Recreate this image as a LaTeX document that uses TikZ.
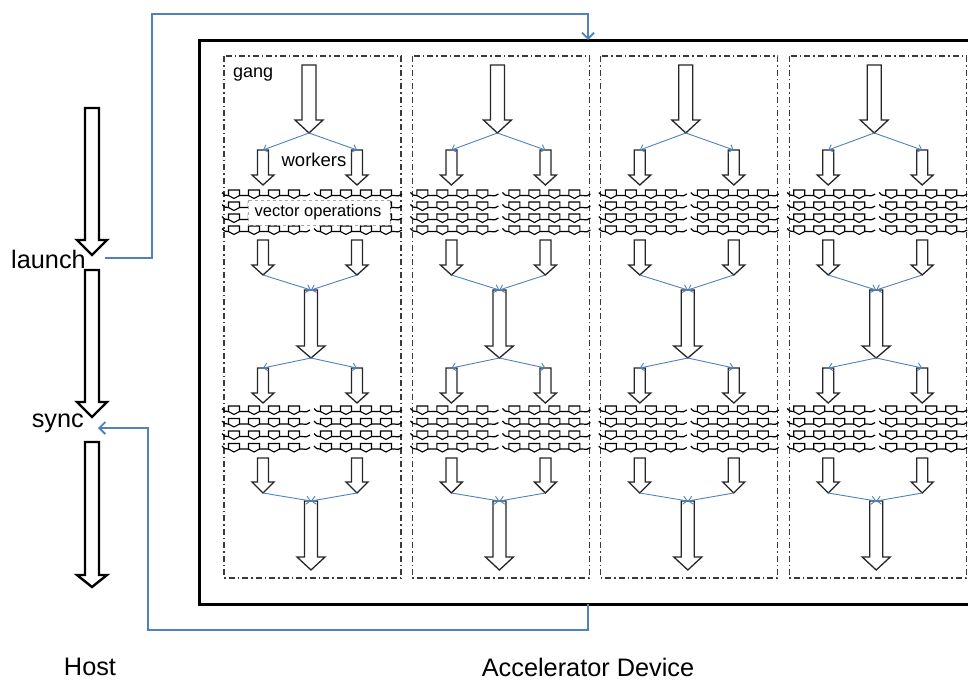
\documentclass[tikz,border=0pt]{standalone}
\usepackage{fontspec}
\setmainfont{Liberation Sans}
\usetikzlibrary{arrows.meta}
\definecolor{linkblue}{HTML}{4F81BD}
\definecolor{gangline}{HTML}{3A3A3A}
\tikzset{
  hostarrow/.style={draw=black, fill=white, line width=2.4pt, line join=miter},
  workarrow/.style={draw=black!85, fill=white, line width=1.3pt, line join=miter},
  link/.style={draw=linkblue, line width=0.9pt, -{Straight Barb[length=4pt,width=8pt]}},
  ctrl/.style={draw=linkblue, line width=1.8pt, -{Straight Barb[length=6pt,width=12pt]}},
  gangbox/.style={draw=gangline, line width=1.3pt, dash pattern=on 6pt off 3pt on 1.5pt off 3pt},
  devicebox/.style={draw=black, line width=3pt},
  vline/.style={draw=black, line width=1.2pt},
  vpent/.style={draw=black, fill=white, line width=1.1pt, line join=miter},
  labelbox/.style={draw=black!35, dashed, line width=0.5pt, fill=white},
  biglabel/.style={font=\fontsize{25.3}{28}\selectfont, inner sep=0pt},
  ganglabel/.style={font=\fontsize{18}{21}\selectfont, inner sep=0pt},
  worklabel/.style={font=\fontsize{18.5}{21}\selectfont, inner sep=0pt},
  veclabel/.style={font=\fontsize{16.5}{19}\selectfont, inner sep=0pt},
}

% hollow block arrow: name, centre x, top y, head base y, tip y, half shaft, half head, style
\newcommand\blockarr[8]{%
  \draw[#8] (#2-#6,#3) -- (#2+#6,#3) -- (#2+#6,#4) -- (#2+#7,#4) -- (#2,#5)
    -- (#2-#7,#4) -- (#2-#6,#4) -- cycle;
  \coordinate (#1-top) at (#2,#3);
  \coordinate (#1-tip) at (#2,#5);
}

% one chain of four vector lanes starting at x = #1 on row y = #2
\newcommand\vrow[2]{%
  \draw[vline] (#1-2,#2-1.5) .. controls (#1+1,#2+1.5) .. (#1+4,#2+1.5)
    -- (#1+78,#2+1.5) .. controls (#1+83,#2+2) .. (#1+86,#2+0);
  \foreach \p in {10,30,50,70}{%
    \draw[vpent] (#1+\p-5.5,#2-4) -- (#1+\p+5.5,#2-4) -- (#1+\p+5.5,#2+1.5)
      -- (#1+\p,#2+4.5) -- (#1+\p-5.5,#2+1.5) -- cycle;
  }%
}

\begin{document}
\begin{tikzpicture}[x=1pt,y=-1pt]
\useasboundingbox (0,0) rectangle (968,680);

% device frame
\draw[devicebox] (968,40) -- (199,40) -- (199,604) -- (968,604);
\coordinate (devtop) at (588,40);
\coordinate (devbot) at (588,604);

% host timeline
\blockarr{h1}{92}{108}{240}{255}{7}{15}{hostarrow}
\blockarr{h2}{92}{270}{402}{417}{7}{15}{hostarrow}
\blockarr{h3}{92}{442}{575}{587}{7}{15}{hostarrow}
\node[biglabel, anchor=east] (launch) at (86,259) {launch};
\node[biglabel, anchor=east] (sync) at (84,423) {sync};
\node[biglabel] (host) at (90,667) {Host};
\node[biglabel] (accel) at (588,667) {Accelerator Device};
\coordinate (launchpt) at (105,258);
\coordinate (syncpt) at (98,428);

% kernel launch and synchronisation
\draw[ctrl] (launchpt) -| (152,14) -| (devtop);
\draw[ctrl] (devbot) |- (148,630) |- (syncpt);

% gangs
\foreach \i in {0,1,2,3}{
  \pgfmathsetmacro\gx{224+188.4*\i}
  \draw[gangbox] (\gx,56) rectangle (\gx+177,578);
  \blockarr{g\i-a}{\gx+85}{65}{120}{133}{7}{14}{workarrow}
  \blockarr{g\i-wl1}{\gx+39}{150}{175}{185}{5.5}{11}{workarrow}
  \blockarr{g\i-wr1}{\gx+133}{150}{175}{185}{5.5}{11}{workarrow}
  \foreach \r in {194,206,218,230}{\vrow{\gx}{\r}\vrow{\gx+92}{\r}}
  \blockarr{g\i-wl2}{\gx+39}{240}{265}{275}{5.5}{11}{workarrow}
  \blockarr{g\i-wr2}{\gx+133}{240}{265}{275}{5.5}{11}{workarrow}
  \blockarr{g\i-b}{\gx+87}{290}{346}{358}{6.5}{14}{workarrow}
  \blockarr{g\i-wl3}{\gx+39}{368}{393}{403}{5.5}{11}{workarrow}
  \blockarr{g\i-wr3}{\gx+133}{368}{393}{403}{5.5}{11}{workarrow}
  \foreach \r in {410,422.5,435,447.5}{\vrow{\gx}{\r}\vrow{\gx+92}{\r}}
  \blockarr{g\i-wl4}{\gx+39}{458}{482}{493}{5.5}{11}{workarrow}
  \blockarr{g\i-wr4}{\gx+133}{458}{482}{493}{5.5}{11}{workarrow}
  \blockarr{g\i-c}{\gx+87}{501}{557}{570}{6.5}{14}{workarrow}
  % fork and join links
  \draw[link] (g\i-a-tip) -- (g\i-wl1-top);
  \draw[link] (g\i-a-tip) -- (g\i-wr1-top);
  \draw[link] (g\i-wl2-tip) -- (g\i-b-top);
  \draw[link] (g\i-wr2-tip) -- (g\i-b-top);
  \draw[link] (g\i-b-tip) -- (g\i-wl3-top);
  \draw[link] (g\i-b-tip) -- (g\i-wr3-top);
  \draw[link] (g\i-wl4-tip) -- (g\i-c-top);
  \draw[link] (g\i-wr4-tip) -- (g\i-c-top);
}

% labels of the first gang
\node[ganglabel, anchor=north west] (gang) at (233,68) {gang};
\node[worklabel] (workers) at (314,160) {workers};
\draw[labelbox] (248,200) rectangle (390,225);
\node[veclabel] (vecops) at (318,212.5) {vector operations};
\end{tikzpicture}
\end{document}
